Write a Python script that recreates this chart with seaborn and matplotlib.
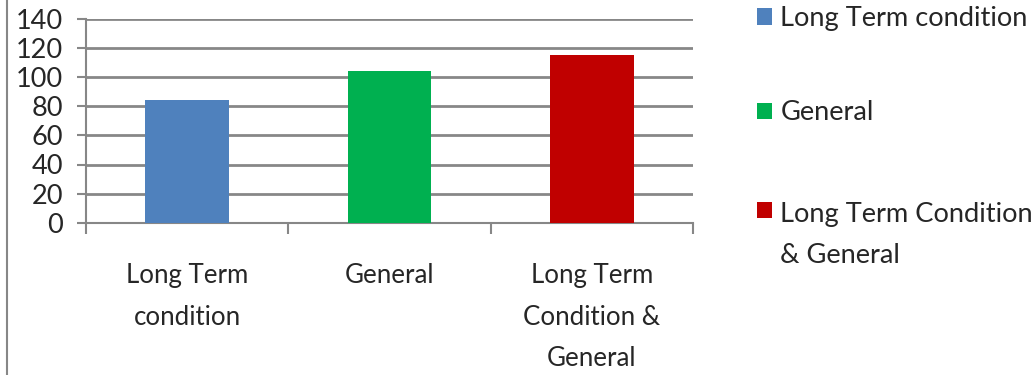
import matplotlib
matplotlib.use("Agg")
import matplotlib.pyplot as plt
from matplotlib.lines import Line2D
from matplotlib.offsetbox import VPacker, DrawingArea
import seaborn as sns
import pandas as pd

# Patient groups and their counts
categories = ["Long Term condition", "General", "Long Term Condition & General"]
values = [84, 104, 115]
tick_labels = ["Long Term\ncondition", "General", "Long Term\nCondition &\nGeneral"]
legend_labels = ["Long Term condition", "General", "Long Term Condition\n& General"]
colors = ["#4F81BD", "#00B050", "#C00000"]
y_ticks = [0, 20, 40, 60, 80, 100, 120, 140]

sns.set_theme(style="white")
plt.rcParams["font.family"] = ["Lato", "DejaVu Sans"]

GRID = "#878787"

df = pd.DataFrame({"group": categories, "count": values})

fig = plt.figure(figsize=(10.33, 3.75), dpi=100)
ax = fig.add_axes([86 / 1033, 1 - 222.7 / 375, (693 - 86) / 1033, (222.7 - 19) / 375])

sns.barplot(data=df, x="group", y="count", hue="group", order=categories,
            hue_order=categories, palette=colors, width=0.415, dodge=False,
            saturation=1, linewidth=0, legend=True, ax=ax, zorder=3)

ax.set_ylim(0, 140)
ax.set_xlim(-0.5, 2.5)
ax.set_yticks(y_ticks)
ax.set_yticklabels([str(v) for v in y_ticks])
ax.set_xticks([0, 1, 2])
ax.set_xticklabels(tick_labels, linespacing=1.83)
ax.set_xticks([-0.5, 0.5, 1.5, 2.5], minor=True)
ax.set_xlabel("")
ax.set_ylabel("")

ax.grid(axis="y", color=GRID, linewidth=2, zorder=0)
ax.set_axisbelow(True)

for side in ["top", "right"]:
    ax.spines[side].set_visible(False)
for side in ["left", "bottom"]:
    ax.spines[side].set_color(GRID)
    ax.spines[side].set_linewidth(1.5)

ax.tick_params(axis="y", which="major", direction="out", length=6.5, width=1.5,
               color=GRID, labelsize=19.5, pad=10, left=True)
ax.tick_params(axis="x", which="major", length=0, labelsize=18.6, pad=29)
ax.tick_params(axis="x", which="minor", direction="out", length=8, width=1.5,
               color=GRID, bottom=True)

handles, _ = ax.get_legend_handles_labels()
ax.get_legend().remove()
leg = fig.legend(handles, legend_labels, loc="upper left", bbox_to_anchor=(0.714, 1.035),
                 frameon=False, fontsize=19.6, handlelength=0.55, handleheight=0.55,
                 handletextpad=0.32, labelspacing=2.55, borderpad=0.2)
for t in leg.get_texts():
    t.set_linespacing(1.8)
# two-line entry: swatch level with its first line, a little extra room above
for column in leg._legend_handle_box.get_children():
    rows = column.get_children()
    for i, row in enumerate(rows):
        if "\n" in row.get_children()[1].get_text():
            row.align = "top"
            rows[i] = VPacker(children=[DrawingArea(1, 5), row], pad=0, sep=0,
                              align="left")

# Chart frame edge on the left
fig.add_artist(Line2D([6.5 / 1033, 6.5 / 1033], [0, 1], transform=fig.transFigure,
                      color=GRID, linewidth=1.5))

fig.savefig("out.png", dpi=100)
